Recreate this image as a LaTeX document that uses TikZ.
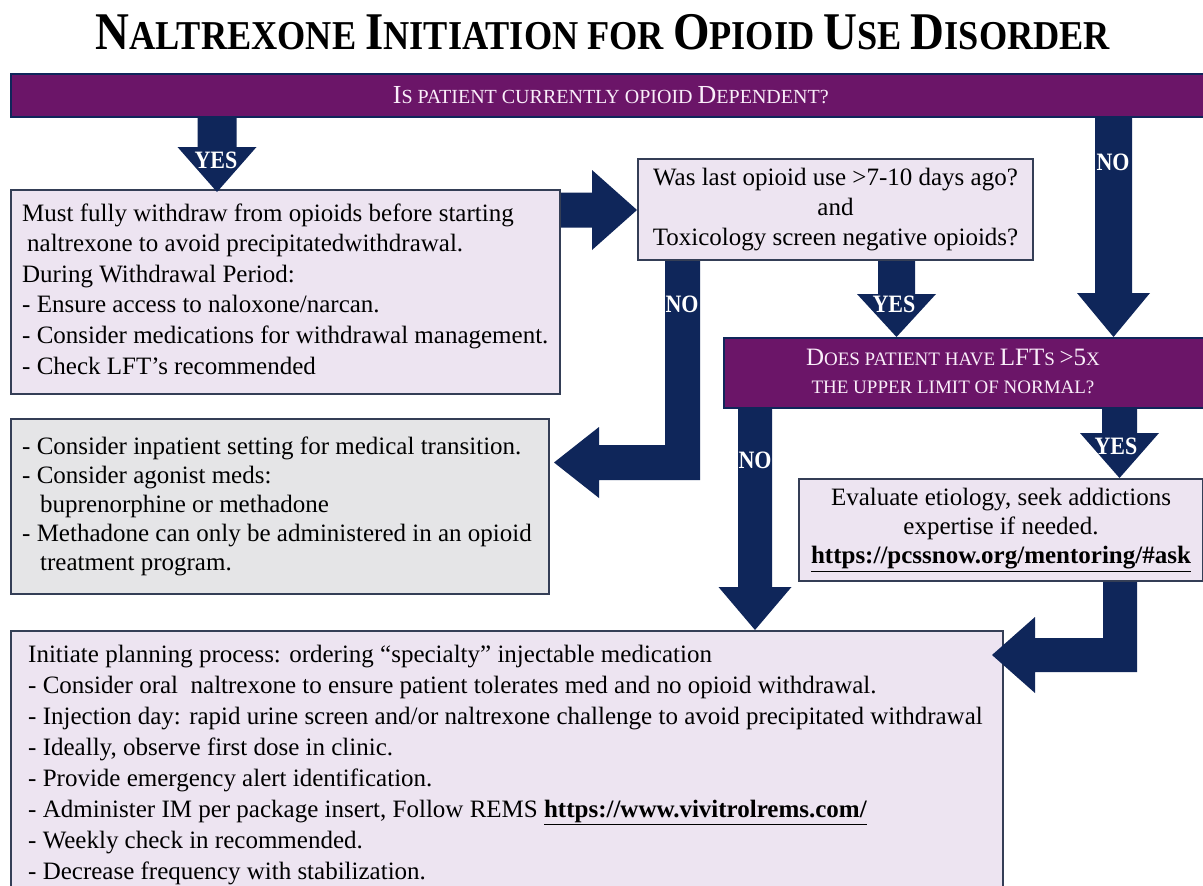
\documentclass[tikz,border=0pt]{standalone}
\usepackage{fontspec}
\setmainfont{Liberation Serif}
\newfontfamily\titlefont{Liberation Serif}[FakeStretch=0.885]
\newfontfamily\lblfont{Liberation Serif}[FakeStretch=0.88]
\usetikzlibrary{calc}
\definecolor{navyc}{RGB}{15,38,90}
\definecolor{purp}{RGB}{107,21,104}
\definecolor{lav}{RGB}{237,228,241}
\definecolor{grayf}{RGB}{229,229,231}
\definecolor{bordc}{RGB}{52,62,86}
\definecolor{bantext}{RGB}{250,238,250}
% small-cap helpers
\newcommand\tB[1]{{\fontsize{53}{53}\selectfont #1}}
\newcommand\tS[1]{{\fontsize{41}{41}\selectfont #1}}
\newcommand\bB[1]{{\fontsize{26}{26}\selectfont #1}}
\newcommand\bS[1]{{\fontsize{20}{20}\selectfont #1}}
\newcommand\lB[1]{{\fontsize{25}{25}\selectfont #1}}
\newcommand\lS[1]{{\fontsize{19}{19}\selectfont #1}}
% block arrows: start, tip, shaft width, head width, head length
\newcommand\blkdown[5]{%
  \fill[navyc] ($(#1)+(-#3/2,0)$) -- ($(#2)+(-#3/2,-#5)$) -- ($(#2)+(-#4/2,-#5)$) -- (#2)
    -- ($(#2)+(#4/2,-#5)$) -- ($(#2)+(#3/2,-#5)$) -- ($(#1)+(#3/2,0)$) -- cycle;}
\newcommand\blkright[5]{%
  \fill[navyc] ($(#1)+(0,-#3/2)$) -- ($(#2)+(-#5,-#3/2)$) -- ($(#2)+(-#5,-#4/2)$) -- (#2)
    -- ($(#2)+(-#5,#4/2)$) -- ($(#2)+(-#5,#3/2)$) -- ($(#1)+(0,#3/2)$) -- cycle;}
\newcommand\blkdownleft[5]{%
  \fill[navyc] ($(#1)+(-#3/2,0)$) -- ($(#1)+(#3/2,0)$) -- ($(#1 |- #2)+(#3/2,#3/2)$)
    -- ($(#2)+(#5,#3/2)$) -- ($(#2)+(#5,#4/2)$) -- (#2) -- ($(#2)+(#5,-#4/2)$)
    -- ($(#2)+(#5,-#3/2)$) -- ($(#1 |- #2)+(-#3/2,-#3/2)$) -- cycle;}
\tikzset{
  boxl/.style={draw=bordc, line width=2pt, fill=lav, inner sep=0pt, anchor=north west},
  boxg/.style={boxl, fill=grayf},
  banner/.style={draw=navyc, line width=1.5pt, fill=purp, inner sep=0pt, anchor=north west},
  body/.style={font=\fontsize{25}{30.6}\selectfont, align=left, inner sep=0pt, anchor=west},
  lbl/.style={text=white, font=\lblfont\bfseries\fontsize{25}{25}\selectfont, inner sep=0pt},
}
\begin{document}
\begin{tikzpicture}[x=1pt,y=-1pt]
\useasboundingbox (0,0) rectangle (1203,886);
\fill[white] (0,0) rectangle (1203,886);

% title
\node[anchor=base, inner sep=0pt, font=\titlefont\bfseries\fontsize{41}{41}\selectfont] (title) at (603,49)
  {\tB{N}\tS{ALTREXONE} \tB{I}\tS{NITIATION} \tS{FOR} \tB{O}\tS{PIOID} \tB{U}\tS{SE} \tB{D}\tS{ISORDER}};

% banners
\node[banner, minimum width=1200pt, minimum height=43pt, text=bantext, font=\fontsize{20}{20}\selectfont] (top) at (10,73)
  {\bB{I}\bS{S PATIENT CURRENTLY OPIOID }\bB{D}\bS{EPENDENT?}};
\node[banner, minimum width=487pt, minimum height=70pt] (lft) at (723,337) {};
\node[text=bantext, align=center, inner sep=0pt, font=\fontsize{19}{28}\selectfont] (lftt) at (953,371)
  {\lB{D}\lS{OES PATIENT HAVE }\lB{LFT}\lS{S} \lB{>5}\lS{X}\\ \lS{THE UPPER LIMIT OF NORMAL?}};

% boxes
\node[boxl, minimum width=549pt, minimum height=204pt] (box1) at (10,189) {};
\node[body] (box1t) at ($(box1.west)+(12,-3)$)
  {Must fully withdraw from opioids before starting\\
   \hspace{5pt}naltrexone to avoid precipitatedwithdrawal.\\
   During Withdrawal Period:\\
   - Ensure access to naloxone/narcan.\\
   - Consider medications for withdrawal management.\\
   - Check LFT’s recommended};

\node[boxl, minimum width=395pt, minimum height=101pt, align=center, font=\fontsize{25}{30}\selectfont] (q2) at (637,158)
  {Was last opioid use >7-10 days ago?\\ and\\ Toxicology screen negative opioids?};

\node[boxg, minimum width=538pt, minimum height=175pt] (gray) at (10,418) {};
\node[body, font=\fontsize{25}{29}\selectfont] (grayt) at ($(gray.west)+(12,0)$)
  {- Consider inpatient setting for medical transition.\\
   - Consider agonist meds:\\
   \hspace{18pt}buprenorphine or methadone\\
   - Methadone can only be administered in an opioid\\
   \hspace{18pt}treatment program.};

\node[boxl, minimum width=404pt, minimum height=102pt, align=center, font=\fontsize{25}{29}\selectfont] (eval) at (798,478)
  {Evaluate etiology, seek addictions\\ expertise if needed.\\ \textbf{\underline{https://pcssnow.org/mentoring/\#ask}}};

\node[boxl, minimum width=992pt, minimum height=268pt] (bottom) at (10,630) {};
\node[body, font=\fontsize{25}{31}\selectfont] (bottomt) at ($(bottom.west)+(18,0)$)
  {Initiate planning process: ordering “specialty” injectable medication\\
   - Consider oral\ \ naltrexone to ensure patient tolerates med and no opioid withdrawal.\\
   - Injection day: rapid urine screen and/or naltrexone challenge to avoid precipitated withdrawal\\
   - Ideally, observe first dose in clinic.\\
   - Provide emergency alert identification.\\
   - Administer IM per package insert, Follow REMS \textbf{\underline{https://www.vivitrolrems.com/}}\\
   - Weekly check in recommended.\\
   - Decrease frequency with stabilization.};

% arrow guide coordinates
\coordinate (a1x) at (217,0);
\coordinate (a2y) at (0,210);
\coordinate (a3x) at (682.5,0);
\coordinate (a3y) at (0,462.5);
\coordinate (a4x) at (896.5,0);
\coordinate (a5x) at (1113.5,0);
\coordinate (a6x) at (1119.5,0);
\coordinate (a7x) at (755,0);
\coordinate (a8x) at (1120,0);
\coordinate (a8y) at (0,655);

\coordinate (a1s) at (top.south -| a1x);
\coordinate (a1t) at ($(box1.north -| a1x)+(0,3)$);
\coordinate (a2s) at (box1.east |- a2y);
\coordinate (a2t) at (q2.west |- a2y);
\coordinate (a3s) at (q2.south -| a3x);
\coordinate (a3t) at ($(gray.east |- a3y)+(4,0)$);
\coordinate (a4s) at (q2.south -| a4x);
\coordinate (a4t) at (lft.north -| a4x);
\coordinate (a5s) at (top.south -| a5x);
\coordinate (a5t) at (lft.north -| a5x);
\coordinate (a6s) at (lft.south -| a6x);
\coordinate (a6t) at (eval.north -| a6x);
\coordinate (a7s) at (lft.south -| a7x);
\coordinate (a7t) at (bottom.north -| a7x);
\coordinate (a8s) at (eval.south -| a8x);
\coordinate (a8t) at ($(bottom.east |- a8y)+(-12,0)$);

% block arrows
\blkdown{a1s}{a1t}{39}{79}{45}
\blkright{a2s}{a2t}{35}{80}{45}
\blkdownleft{a3s}{a3t}{35}{71}{45}
\blkdown{a4s}{a4t}{37}{79}{43}
\blkdown{a5s}{a5t}{37}{73}{44}
\blkdown{a6s}{a6t}{35}{79}{45}
\blkdown{a7s}{a7t}{34}{73}{43}
\blkdownleft{a8s}{a8t}{34}{76}{43}

% labels
\node[lbl] (l1) at (216,160) {YES};
\node[lbl] (l2) at (682,304) {NO};
\node[lbl] (l3) at (894,304) {YES};
\node[lbl] (l4) at (1113,162) {NO};
\node[lbl] (l5) at (1116,446) {YES};
\node[lbl] (l6) at (755,460) {NO};
\end{tikzpicture}
\end{document}
